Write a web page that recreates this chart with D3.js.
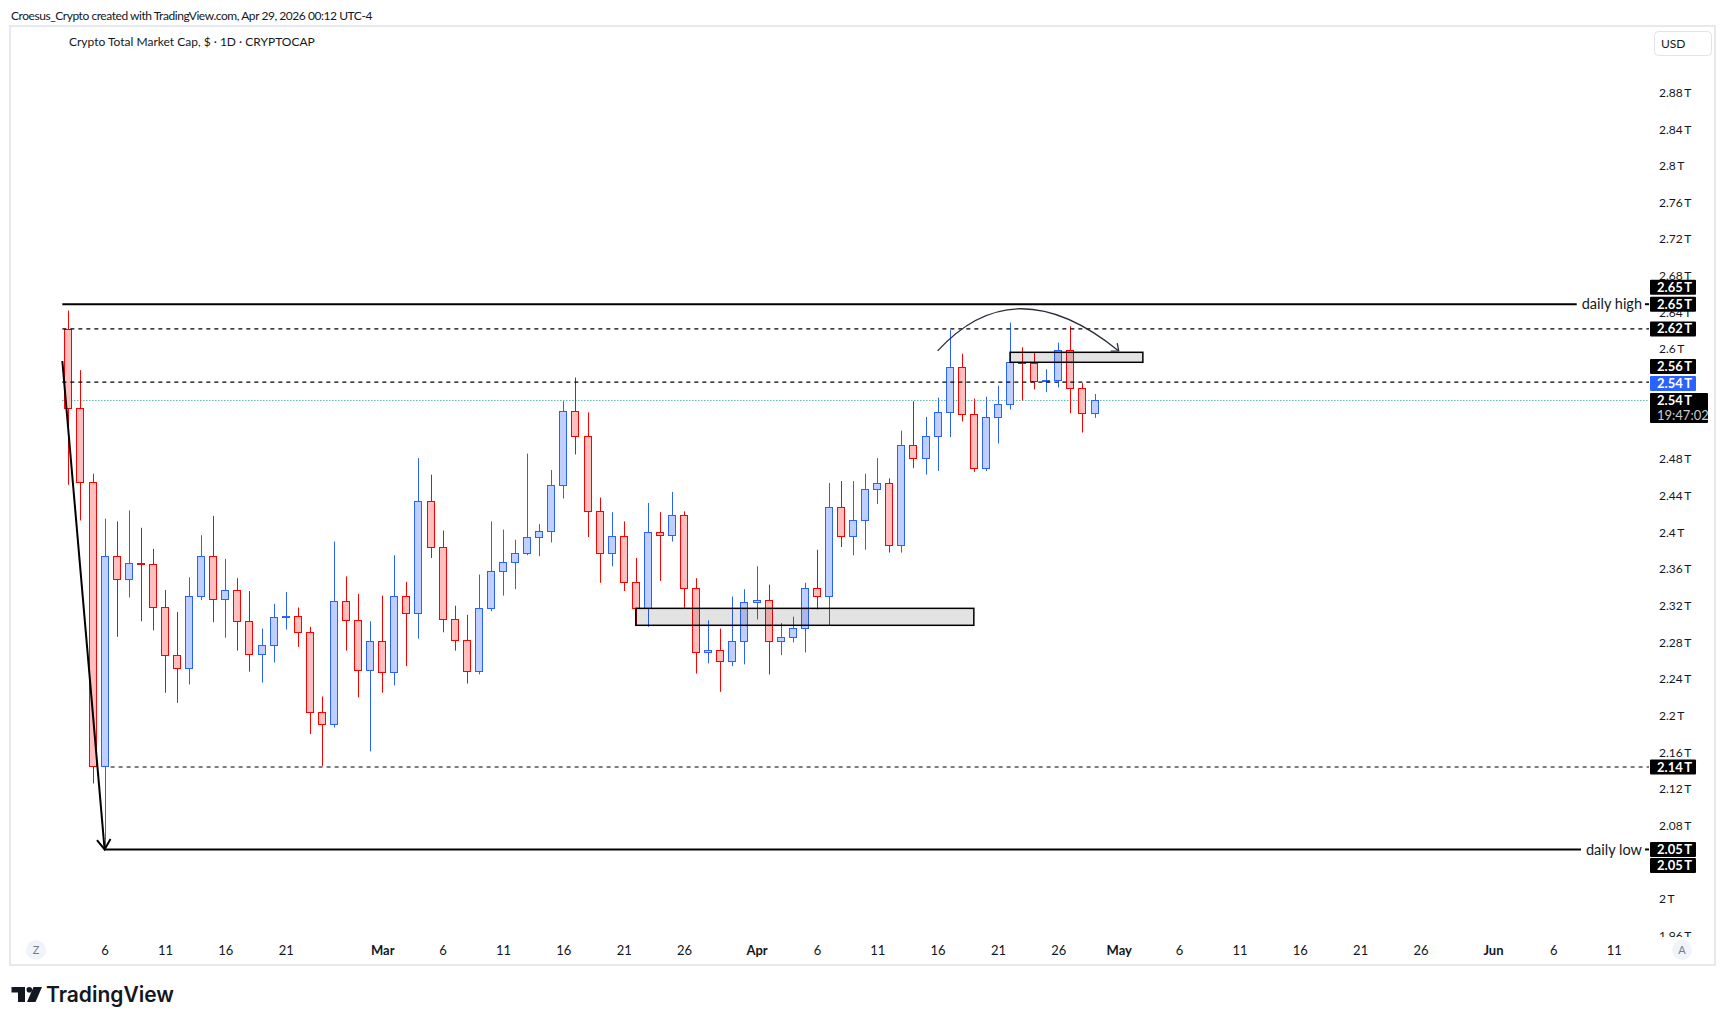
<!DOCTYPE html>
<html lang="en">
<head>
<meta charset="UTF-8">
<title>Crypto Total Market Cap, $ - 1D - CRYPTOCAP</title>
<style>
  body { margin: 0; background: #fff; }
  svg text { font-family: Lato, "Noto Sans", sans-serif; }
</style>
<script src="https://d3js.org/d3.v7.min.js"></script>
</head>
<body>
<script>

// ---- data (values in trillions of USD) ----
var firstDay = "2026-02-03", lastDay = "2026-04-29";

var opens = [2.622,2.536,2.455,2.145,2.374,2.349,2.367,2.365,2.319,2.266,2.252,2.331,2.374,2.327,2.337,2.303,2.267,2.277,2.308,2.309,2.291,2.204,2.191,2.325,2.304,2.250,
             2.281,2.248,2.331,2.312,2.434,2.384,2.305,2.283,2.249,2.317,2.358,2.368,2.378,2.395,2.402,2.452,2.532,2.505,2.423,2.378,2.396,2.346,2.317,2.400,2.397,2.419,2.339,2.269,2.272,2.260,2.282,
             2.324,2.326,2.281,2.286,2.296,2.339,2.331,2.428,2.396,2.413,2.447,2.454,2.386,2.495,2.481,2.505,2.531,2.581,2.529,2.470,2.526,2.540,2.586,2.585,2.565,2.566,2.599,2.558,2.530];
var highs = [2.642,2.577,2.464,2.415,2.412,2.424,2.405,2.382,2.337,2.313,2.351,2.397,2.418,2.371,2.350,2.336,2.295,2.322,2.335,2.318,2.297,2.221,2.390,2.352,2.333,2.303,
             2.331,2.375,2.346,2.481,2.463,2.402,2.320,2.310,2.354,2.412,2.403,2.392,2.486,2.409,2.468,2.543,2.569,2.531,2.438,2.422,2.412,2.372,2.432,2.422,2.444,2.423,2.350,2.304,2.295,2.330,2.338,
             2.363,2.343,2.301,2.308,2.345,2.381,2.454,2.456,2.456,2.464,2.481,2.459,2.511,2.543,2.526,2.547,2.621,2.595,2.546,2.548,2.560,2.629,2.602,2.597,2.578,2.607,2.625,2.563,2.551];
var lows  = [2.452,2.413,2.126,2.054,2.286,2.329,2.303,2.293,2.225,2.214,2.234,2.326,2.302,2.285,2.271,2.248,2.236,2.258,2.294,2.275,2.180,2.145,2.187,2.271,2.220,2.161,
             2.225,2.233,2.254,2.284,2.372,2.291,2.271,2.235,2.245,2.314,2.331,2.338,2.375,2.374,2.389,2.437,2.485,2.395,2.345,2.363,2.336,2.299,2.297,2.347,2.390,2.317,2.246,2.257,2.226,2.254,2.256,
             2.305,2.245,2.266,2.280,2.269,2.316,2.299,2.384,2.375,2.381,2.431,2.378,2.378,2.470,2.463,2.467,2.504,2.521,2.466,2.467,2.497,2.534,2.544,2.556,2.553,2.558,2.530,2.509,2.525];
var closes = [2.536,2.455,2.145,2.374,2.349,2.367,2.365,2.319,2.266,2.252,2.331,2.374,2.327,2.337,2.303,2.267,2.277,2.308,2.309,2.291,2.204,2.191,2.325,2.304,2.250,2.281,
             2.248,2.331,2.312,2.434,2.384,2.305,2.283,2.249,2.317,2.358,2.368,2.378,2.395,2.402,2.452,2.532,2.505,2.423,2.378,2.396,2.346,2.317,2.400,2.397,2.419,2.339,2.269,2.272,2.260,2.282,2.324,
             2.326,2.281,2.286,2.296,2.339,2.331,2.428,2.396,2.413,2.447,2.454,2.386,2.495,2.481,2.505,2.531,2.581,2.529,2.470,2.526,2.540,2.586,2.585,2.565,2.566,2.599,2.558,2.530,2.544];

var yTicks = [1.96,2,2.04,2.08,2.12,2.16,2.2,2.24,2.28,2.32,2.36,2.4,2.44,2.48,2.52,2.56,2.6,2.64,2.68,2.72,2.76,2.8,2.84,2.88];
var xTickDates = ["2026-02-06","2026-02-11","2026-02-16","2026-02-21",
                  "2026-03-01","2026-03-06","2026-03-11","2026-03-16","2026-03-21","2026-03-26",
                  "2026-04-01","2026-04-06","2026-04-11","2026-04-16","2026-04-21","2026-04-26",
                  "2026-05-01","2026-05-06","2026-05-11","2026-05-16","2026-05-21","2026-05-26",
                  "2026-06-01","2026-06-06","2026-06-11"];

// drawings on the chart
var dailyHigh = 2.649, dailyLow = 2.054;
var highStart = "2026-02-02T12:00Z", lowStart = "2026-02-06";
var dashedLevels = [2.622, 2.564, 2.144];
var dashedStarts = ["2026-02-02T12:00Z", "2026-02-02T12:00Z", "2026-02-06T12:00Z"];
var zoneDates  = [["2026-03-22", "2026-04-19"], ["2026-04-22", "2026-05-03"]];
var zoneValues = [[2.3171, 2.2986], [2.5965, 2.5856]];
var arrowDates  = ["2026-02-02T12:00Z", "2026-02-06"];
var arrowValues = [2.587, 2.054];
var arcDates  = ["2026-04-16", "2026-04-22T09:00Z", "2026-05-01"];
var arcValues = [2.598, 2.69, 2.598];
var countdown = "19:47:02";

// ---- layout ----
var width = 1726, height = 1025;
var paneLeft = 10, paneTop = 27, paneRight = 1649, paneBottom = 937, panelRight = 1715, panelBottom = 965;

var days = d3.utcDay.range(new Date(firstDay), d3.utcDay.offset(new Date(lastDay), 1));
var candles = days.map(function(d, i){
    return {date: d, o: opens[i], h: highs[i], l: lows[i], c: closes[i]};
});
var lastPrice = closes[closes.length - 1];

var x = d3.scaleUtc()
          .domain([new Date("2026-02-06"), new Date("2026-06-11")])
          .range([104.6, 1613.7]);
var y = d3.scaleLinear()
          .domain([1.96, 2.88])
          .range([935.6, 92.5]);

var fmtT = function(d){ return d3.format("~f")(d) + "\u2009T"; };
var fmtL = function(d){ return d3.format(".2f")(d) + "\u2009T"; };

var svg = d3.select("body")
            .append("svg")
            .attr("width", width)
            .attr("height", height);

var defs = svg.append("defs");
defs.append("clipPath").attr("id", "paneClip")
    .append("rect").attr("x", paneLeft).attr("y", paneTop)
    .attr("width", paneRight - paneLeft).attr("height", paneBottom - paneTop);
defs.append("clipPath").attr("id", "axisClip")
    .append("rect").attr("x", paneRight).attr("y", paneTop)
    .attr("width", panelRight - paneRight).attr("height", paneBottom - paneTop);

// header
svg.append("text")
   .attr("x", 11).attr("y", 20)
   .attr("fill", "#131722")
   .style("font-size", "12px").style("letter-spacing", "-0.45px")
   .text("Croesus_Crypto created with TradingView.com, Apr 29, 2026 00:12 UTC-4");

// panel frame
svg.append("rect")
   .attr("x", paneLeft).attr("y", 26)
   .attr("width", panelRight - paneLeft).attr("height", panelBottom - 26)
   .attr("fill", "none").attr("stroke", "#e6e9ef").attr("stroke-width", 2);

svg.append("text")
   .attr("x", 69).attr("y", 46)
   .attr("fill", "#131722")
   .style("font-size", "12px")
   .text("Crypto Total Market Cap, $ \u00b7 1D \u00b7 CRYPTOCAP");

// USD button
svg.append("rect")
   .attr("x", 1654.5).attr("y", 31.5).attr("width", 57).attr("height", 24).attr("rx", 4)
   .attr("fill", "#fff").attr("stroke", "#e0e3eb");
svg.append("text")
   .attr("x", 1661).attr("y", 48)
   .attr("fill", "#131722").style("font-size", "12px")
   .text("USD");

// ---- price labels on the axis (crowded ones get pushed aside) ----
var marks = [
    {v: dailyHigh, fill: "#000", push: 0},
    {v: lastPrice, fill: "#000", push: 0, sub: countdown},
    {v: dailyLow, fill: "#000", push: 0},
    {v: dashedLevels[0], fill: "#000", push: 0},
    {v: dashedLevels[2], fill: "#000", push: 0},
    {v: lastPrice, fill: "#2962ff", push: -1},
    {v: dashedLevels[1], fill: "#000", push: -1},
    {v: dailyHigh, fill: "#000", push: -1},
    {v: dailyLow, fill: "#000", push: 1}
];
var placed = [];
marks.forEach(function(m){
    m.h = m.sub ? 30 : 15;
    m.top = y(m.v) - 7.5;
    var hit = m.push !== 0;
    while (hit) {
        hit = false;
        placed.forEach(function(p){
            if (m.top < p.top + p.h + 1 && m.top + m.h + 1 > p.top) {
                hit = true;
                m.top = m.push < 0 ? p.top - m.h - 2 : p.top + p.h + 1;
            }
        });
    }
    placed.push(m);
});
var underMark = function(t){
    return marks.some(function(m){ return y(t) > m.top && y(t) < m.top + m.h; });
};

// ---- price axis ----
var yAxisG = svg.append("g").attr("clip-path", "url(#axisClip)")
                .append("g").attr("transform", "translate(1659,0)");
yAxisG.call(d3.axisRight(y)
              .tickValues(yTicks.filter(function(t){ return !underMark(t); }))
              .tickSize(0).tickPadding(0).tickFormat(fmtT));
yAxisG.select(".domain").remove();
yAxisG.attr("font-family", null).attr("font-size", null);
yAxisG.selectAll("text").attr("fill", "#131722").style("font-size", "12px");

// ---- time axis ----
var xAxisG = svg.append("g").attr("transform", "translate(0," + paneBottom + ")");
xAxisG.call(d3.axisBottom(x)
              .tickValues(xTickDates.map(function(s){ return new Date(s); }))
              .tickSize(0)
              .tickFormat(function(d){
                  return d.getUTCDate() === 1 ? d3.utcFormat("%b")(d) : d3.utcFormat("%-d")(d);
              }));
xAxisG.select(".domain").remove();
xAxisG.attr("font-family", null).attr("font-size", null);
xAxisG.selectAll("text")
      .attr("y", 13).attr("dy", "0.35em")
      .attr("fill", "#131722")
      .style("font-size", "13px")
      .style("font-weight", function(d){ return d.getUTCDate() === 1 ? "bold" : null; });

// round buttons at both ends of the time scale
[["Z", 36], ["A", 1682]].forEach(function(b){
    svg.append("circle").attr("cx", b[1]).attr("cy", 950).attr("r", 10).attr("fill", "#f0f3fa");
    svg.append("text").attr("x", b[1]).attr("y", 950).attr("dy", "0.35em")
       .attr("text-anchor", "middle").attr("fill", "#787b86").style("font-size", "11px").text(b[0]);
});

// ---- chart pane ----
var pane = svg.append("g").attr("clip-path", "url(#paneClip)");

// last price line
pane.append("line")
    .attr("x1", x(new Date(highStart))).attr("x2", paneRight)
    .attr("y1", Math.round(y(lastPrice)) + 0.5).attr("y2", Math.round(y(lastPrice)) + 0.5)
    .attr("stroke", "#089981").attr("stroke-width", 1).attr("stroke-dasharray", "1,2");

var bodyW = 8;
var candle = pane.selectAll("g.candle")
                 .data(candles)
                 .enter()
                 .append("g")
                 .attr("class", "candle");

candle.append("line")
      .attr("x1", function(d){ return Math.round(x(d.date) - bodyW / 2) + 4.5; })
      .attr("x2", function(d){ return Math.round(x(d.date) - bodyW / 2) + 4.5; })
      .attr("y1", function(d){ return y(d.h); })
      .attr("y2", function(d){ return y(d.l); })
      .attr("stroke", function(d){ return d.c >= d.o ? "#2962ff" : "#ff0000"; })
      .attr("stroke-width", 1);

candle.append("rect")
      .attr("x", function(d){ return Math.round(x(d.date) - bodyW / 2) + 0.5; })
      .attr("width", bodyW - 1)
      .attr("y", function(d){ return Math.round(y(Math.max(d.o, d.c))) + 0.5; })
      .attr("height", function(d){ return Math.max(1, Math.round(y(Math.min(d.o, d.c))) - Math.round(y(Math.max(d.o, d.c)))); })
      .attr("fill", function(d){ return d.c >= d.o ? "#bfcfff" : "#ffbfbf"; })
      .attr("stroke", function(d){ return d.c >= d.o ? "#2962ff" : "#ff0000"; })
      .attr("stroke-width", 1);

// zones
zoneDates.forEach(function(zd, i){
    var x0 = x(new Date(zd[0])), x1 = x(new Date(zd[1]));
    var y0 = y(zoneValues[i][0]), y1 = y(zoneValues[i][1]);
    pane.append("rect")
        .attr("x", x0).attr("y", y0)
        .attr("width", x1 - x0).attr("height", y1 - y0)
        .attr("fill", "rgba(0,0,0,0.11)")
        .attr("stroke", "#000").attr("stroke-width", 1.5);
});

// dashed levels
dashedLevels.forEach(function(v, i){
    pane.append("line")
        .attr("x1", x(new Date(dashedStarts[i]))).attr("x2", paneRight)
        .attr("y1", y(v)).attr("y2", y(v))
        .attr("stroke", "#000").attr("stroke-width", 1.2).attr("stroke-dasharray", "4,4");
});

// daily high / low lines with text
[[dailyHigh, highStart, "daily high"], [dailyLow, lowStart, "daily low"]].forEach(function(h){
    var yy = y(h[0]);
    var t = pane.append("text")
                .attr("x", paneRight - 7).attr("y", yy).attr("dy", "0.35em")
                .attr("text-anchor", "end")
                .attr("fill", "#131722").style("font-size", "14.5px")
                .text(h[2]);
    var tw = t.node().getComputedTextLength();
    pane.append("line")
        .attr("x1", x(new Date(h[1]))).attr("x2", paneRight - 7 - tw - 5)
        .attr("y1", yy).attr("y2", yy)
        .attr("stroke", "#000").attr("stroke-width", 2);
    pane.append("line")
        .attr("x1", paneRight - 4).attr("x2", paneRight)
        .attr("y1", yy).attr("y2", yy)
        .attr("stroke", "#000").attr("stroke-width", 2);
});

// arrow to the daily low
var a0 = [x(new Date(arrowDates[0])), y(arrowValues[0])];
var a1 = [x(new Date(arrowDates[1])), y(arrowValues[1])];
var ang = Math.atan2(a1[1] - a0[1], a1[0] - a0[0]);
pane.append("line")
    .attr("x1", a0[0]).attr("y1", a0[1]).attr("x2", a1[0]).attr("y2", a1[1])
    .attr("stroke", "#000").attr("stroke-width", 2);
pane.append("path")
    .attr("d", "M" + (a1[0] - 12 * Math.cos(ang - 0.6)) + "," + (a1[1] - 12 * Math.sin(ang - 0.6)) +
               "L" + a1[0] + "," + a1[1] +
               "L" + (a1[0] - 12 * Math.cos(ang + 0.6)) + "," + (a1[1] - 12 * Math.sin(ang + 0.6)))
    .attr("fill", "none").attr("stroke", "#000").attr("stroke-width", 2);

// curved arrow over the top
var c0 = [x(new Date(arcDates[0])), y(arcValues[0])];
var c1 = [x(new Date(arcDates[1])), y(arcValues[1])];
var c2 = [x(new Date(arcDates[2])), y(arcValues[2])];
var path = d3.path();
path.moveTo(c0[0], c0[1]);
path.quadraticCurveTo(c1[0], c1[1], c2[0], c2[1]);
pane.append("path").attr("d", path.toString())
    .attr("fill", "none").attr("stroke", "#2a2e39").attr("stroke-width", 1.3);
var ang2 = Math.atan2(c2[1] - c1[1], c2[0] - c1[0]);
pane.append("path")
    .attr("d", "M" + (c2[0] - 8 * Math.cos(ang2 - 0.7)) + "," + (c2[1] - 8 * Math.sin(ang2 - 0.7)) +
               "L" + c2[0] + "," + c2[1] +
               "L" + (c2[0] - 8 * Math.cos(ang2 + 0.7)) + "," + (c2[1] - 8 * Math.sin(ang2 + 0.7)))
    .attr("fill", "none").attr("stroke", "#2a2e39").attr("stroke-width", 1.3);

// label boxes drawn over the price axis
var markG = svg.selectAll("g.mark")
               .data(marks)
               .enter()
               .append("g")
               .attr("class", "mark");
markG.append("rect")
     .attr("x", 1650).attr("y", function(d){ return d.top; })
     .attr("width", function(d){ return d.sub ? 58 : 46; })
     .attr("height", function(d){ return d.h; })
     .attr("rx", 1)
     .attr("fill", function(d){ return d.fill; });
markG.append("text")
     .attr("x", 1657).attr("y", function(d){ return d.top + 7.5; }).attr("dy", "0.35em")
     .attr("fill", "#fff").style("font-size", "13px").style("font-weight", "bold")
     .text(function(d){ return fmtL(d.v); });
markG.filter(function(d){ return d.sub; })
     .append("text")
     .attr("x", 1657).attr("y", function(d){ return d.top + 22.5; }).attr("dy", "0.35em")
     .attr("fill", "#c9cbd1").style("font-size", "13px")
     .text(function(d){ return d.sub; });

// ---- TradingView logo ----
var logo = svg.append("g").attr("fill", "#131722");
logo.append("path").attr("d", "M11.5,987H25V1002H18V992.5H11.5Z");
logo.append("circle").attr("cx", 29.3).attr("cy", 989.8).attr("r", 2.8);
logo.append("path").attr("d", "M33.5,987H42L35.5,1002H27Z");
svg.append("text")
   .attr("x", 46).attr("y", 1002)
   .attr("fill", "#131722")
   .style("font-family", "Inter, Lato, sans-serif")
   .style("font-size", "21px").style("font-weight", "600")
   .text("TradingView");

</script>
</body>
</html>
